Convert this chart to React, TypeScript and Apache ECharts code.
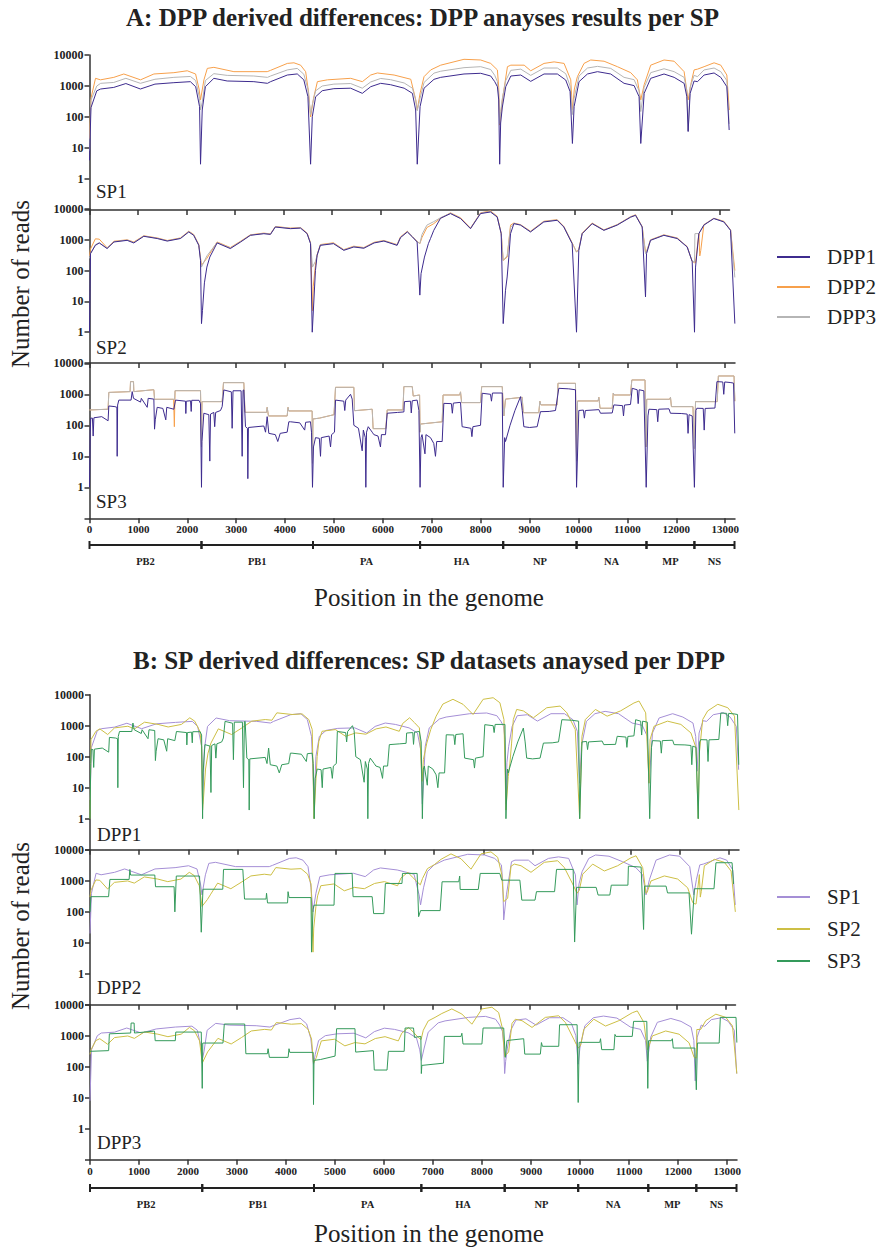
import React, { useEffect, useRef } from 'react';
import * as echarts from 'echarts';

type P = [number, number];

const xTicks = [0, 1000, 2000, 3000, 4000, 5000, 6000, 7000, 8000, 9000, 10000, 11000, 12000, 13000];
const geneNames = ['PB2', 'PB1', 'PA', 'HA', 'NP', 'NA', 'MP', 'NS'];
const geneBounds = [0, 2290, 4570, 6760, 8460, 9960, 11390, 12370, 13190];
const dppNames = ['DPP1', 'DPP2', 'DPP3'];
const spNames = ['SP1', 'SP2', 'SP3'];

// SP1
const sp1dpp1: P[] = [[0,4],[30,200],[150,700],[230,800],[500,900],[750,1200],[1050,800],[1350,1150],[1740,1280],[2080,1380],[2190,950],[2270,216],[2290,3],[2325,168],[2390,950],[2565,1770],[2840,1450],[3390,1380],[3670,1220],[3735,1380],[4080,2260],[4285,2450],[4420,1580],[4505,453],[4560,3],[4595,102],[4664,450],[4800,705],[5040,820],[5386,850],[5627,580],[5800,950],[6005,1220],[6210,1100],[6490,850],[6660,580],[6727,168],[6760,3],[6818,216],[6900,850],[7105,1640],[7243,1900],[7724,2440],[8068,2570],[8275,2100],[8358,1380],[8413,950],[8440,355],[8460,3],[8480,64],[8515,210],[8585,950],[8690,2100],[8895,2260],[9100,1410],[9375,2440],[9650,2440],[9822,1560],[9912,660],[9960,14],[9995,216],[10097,1380],[10270,2440],[10477,2900],[10750,2440],[11025,1220],[11232,1030],[11335,453],[11370,14],[11440,580],[11575,1770],[11850,2440],[12058,1900],[12264,1220],[12320,453],[12347,34],[12388,580],[12470,1450],[12540,1380],[12676,2260],[12882,2630],[13020,1900],[13145,950],[13193,38]];
const sp1dpp2: P[] = [[0,20],[30,400],[124,1770],[227,1580],[502,1900],[708,2440],[1052,1580],[1328,2440],[1740,2690],[2016,3100],[2188,2440],[2260,800],[2290,355],[2360,1580],[2430,3700],[2565,4000],[2978,2900],[3666,2900],[3735,3200],[4080,5350],[4217,5600],[4354,4700],[4458,2900],[4520,600],[4560,100],[4620,400],[4700,1380],[4906,1580],[5387,1770],[5628,1380],[5800,2260],[5938,2630],[6282,2260],[6626,1650],[6730,355],[6760,168],[6820,600],[6900,2000],[7037,3300],[7243,4700],[7724,7260],[8068,6900],[8275,5350],[8413,3300],[8440,900],[8460,55],[8515,355],[8620,4200],[8690,4700],[8965,4700],[9100,3100],[9375,5350],[9582,6000],[9788,5350],[9926,1580],[9960,168],[10000,800],[10063,2000],[10200,5350],[10338,6900],[10613,6300],[10888,4200],[11163,2690],[11300,1580],[11370,355],[11440,1100],[11575,4700],[11850,6900],[12058,6300],[12264,2900],[12347,355],[12400,1100],[12470,3300],[12540,3500],[12676,4200],[12882,5600],[13020,4700],[13145,2260],[13195,168]];
const sp1dpp3: P[] = [[0,8],[30,350],[150,1000],[230,1220],[500,1300],[750,1770],[1050,1220],[1350,1650],[1740,1900],[2080,2030],[2190,1500],[2270,400],[2290,168],[2325,300],[2390,1500],[2565,2500],[2840,2200],[3390,2100],[3670,1900],[3735,2100],[4080,3300],[4285,3700],[4420,2400],[4505,800],[4560,120],[4595,250],[4664,700],[4800,1000],[5040,1150],[5386,1200],[5627,850],[5800,1350],[6005,1750],[6210,1600],[6490,1250],[6660,850],[6727,350],[6760,160],[6818,400],[6900,1300],[7105,2600],[7243,3000],[7724,3900],[8068,4200],[8275,3400],[8358,2200],[8413,1400],[8440,500],[8460,60],[8480,150],[8515,400],[8585,1500],[8690,3200],[8895,3500],[9100,2200],[9375,3800],[9650,3800],[9822,2500],[9912,1000],[9960,120],[9995,400],[10097,2100],[10270,3800],[10477,4300],[10750,3700],[11025,1900],[11232,1600],[11335,700],[11370,150],[11440,900],[11575,2700],[11850,3600],[12058,2900],[12264,1900],[12320,700],[12347,35],[12388,900],[12470,2200],[12540,2000],[12676,3300],[12882,3800],[13020,2900],[13145,1500],[13193,60]];

// SP2
const sp2dpp1: P[] = [[0,1],[20,355],[120,660],[200,790],[360,520],[500,850],[770,960],[906,790],[1110,1300],[1385,1100],[1590,910],[1860,1100],[2030,1800],[2130,1400],[2235,660],[2270,215],[2290,1.9],[2310,5],[2350,40],[2400,130],[2460,275],[2610,790],[2880,520],[3090,850],[3290,1400],[3565,1580],[3700,1500],[3800,2600],[4110,2300],[4315,2400],[4450,1580],[4520,750],[4555,1],[4620,100],[4655,315],[4720,660],[4990,750],[5200,455],[5405,585],[5610,532],[5820,790],[6020,910],[6290,660],[6360,1180],[6500,1800],[6600,1250],[6700,850],[6755,16],[6780,80],[6850,275],[6930,750],[6973,1100],[7040,2030],[7178,5000],[7382,7100],[7587,4900],[7791,2300],[7996,7100],[8200,8000],[8337,5500],[8419,1580],[8460,1.9],[8507,23],[8541,62],[8575,275],[8610,1580],[8678,3350],[8814,3000],[9018,1800],[9290,3800],[9563,4300],[9700,2600],[9870,750],[9959,1],[10006,455],[10075,1580],[10279,3350],[10518,2030],[10790,3000],[11063,5400],[11166,6250],[11302,2600],[11370,14],[11391,355],[11472,960],[11745,1400],[12018,1100],[12222,585],[12325,195],[12372,1],[12393,130],[12461,1580],[12563,3000],[12768,4900],[12972,3800],[13109,2030],[13197,1.9]];
const sp2dpp2: P[] = [[0,300],[20,500],[120,1075],[200,1050],[360,550],[500,900],[770,1000],[906,850],[1110,1350],[1385,1150],[1590,950],[1860,1150],[2030,1900],[2130,1500],[2235,700],[2290,150],[2400,250],[2460,355],[2610,850],[2880,560],[3090,900],[3290,1450],[3565,1650],[3700,1550],[3800,2700],[4110,2400],[4315,2500],[4450,1650],[4520,800],[4560,5],[4575,30],[4620,150],[4655,330],[4720,700],[4990,800],[5200,480],[5405,620],[5610,560],[5820,830],[6020,950],[6290,700],[6360,1250],[6500,1900],[6600,1300],[6700,900],[6755,750],[6800,1200],[6900,2500],[7040,3350],[7178,5000],[7382,7500],[7587,5200],[7791,2400],[7996,7500],[8200,8700],[8337,5800],[8419,1650],[8460,215],[8541,275],[8610,3000],[8678,3500],[8814,3100],[9018,1900],[9290,4000],[9563,4500],[9700,2700],[9870,800],[9959,400],[10006,500],[10075,1650],[10279,3500],[10518,2100],[10790,3100],[11063,5600],[11166,6500],[11302,2700],[11370,400],[11391,420],[11472,1000],[11745,1450],[12018,1150],[12222,600],[12325,200],[12372,180],[12393,180],[12461,1600],[12480,300],[12500,450],[12563,3100],[12768,5000],[12972,4000],[13109,2100],[13197,100]];
const sp2dpp3: P[] = [[0,250],[20,350],[120,700],[200,800],[360,530],[500,870],[770,980],[906,820],[1110,1320],[1385,1120],[1590,930],[1860,1120],[2030,1850],[2130,1450],[2235,680],[2290,130],[2400,300],[2460,400],[2610,820],[2880,540],[3090,870],[3290,1420],[3565,1600],[3700,1520],[3800,2650],[4110,2350],[4315,2450],[4450,1600],[4520,780],[4560,130],[4620,200],[4655,320],[4720,680],[4990,770],[5200,470],[5405,600],[5610,545],[5820,810],[6020,930],[6290,680],[6360,1200],[6500,1850],[6600,1280],[6700,870],[6755,750],[6800,1500],[6900,3000],[7040,3900],[7178,5200],[7382,7300],[7587,5000],[7791,2350],[7996,7300],[8200,8300],[8337,5600],[8419,1600],[8460,215],[8541,300],[8610,2500],[8678,3400],[8814,3050],[9018,1850],[9290,3900],[9563,4400],[9700,2650],[9870,770],[9959,400],[10006,470],[10075,1600],[10279,3400],[10518,2050],[10790,3050],[11063,5500],[11166,6300],[11302,2650],[11370,355],[11391,400],[11472,980],[11745,1420],[12018,1120],[12222,590],[12325,200],[12372,190],[12380,1580],[12461,1600],[12563,3050],[12768,4950],[12972,3900],[13109,2050],[13197,60]];

// SP3
const sp3dpp1: P[] = [[0,1],[15,60],[25,170],[60,170],[75,45],[90,175],[250,190],[380,140],[395,420],[520,400],[560,380],[566,10],[575,450],[600,650],[850,650],[873,1220],[900,740],[1043,560],[1060,740],[1180,380],[1200,740],[1316,700],[1330,75],[1345,150],[1384,380],[1500,350],[1560,150],[1580,380],[1725,330],[1759,650],[1963,600],[1970,240],[1980,600],[2066,620],[2080,280],[2090,640],[2240,640],[2270,500],[2290,1],[2300,30],[2338,245],[2440,220],[2460,7],[2475,230],[2542,260],[2560,90],[2580,260],[2679,300],[2713,400],[2747,1380],[2900,1200],[2917,80],[2935,1300],[3100,1300],[3122,10],[3140,1350],[3156,1380],[3190,90],[3230,80],[3238,1.9],[3250,85],[3565,95],[3600,60],[3633,190],[3667,55],[3800,50],[3850,30],[3900,55],[4042,60],[4076,130],[4110,130],[4300,120],[4400,70],[4420,125],[4519,130],[4540,60],[4560,1],[4580,20],[4622,40],[4700,38],[4724,10],[4740,40],[4900,45],[4929,20],[4950,50],[5010,60],[5031,650],[5200,600],[5220,300],[5240,650],[5338,1000],[5372,700],[5406,100],[5500,80],[5576,15],[5600,70],[5640,40],[5651,1],[5665,60],[5700,90],[5781,60],[5815,50],[5900,45],[5950,20],[5970,50],[6053,50],[6088,245],[6300,260],[6429,270],[6440,580],[6565,600],[6580,250],[6600,620],[6700,650],[6736,300],[6760,1],[6780,40],[6800,50],[6860,12],[6880,50],[6973,40],[7040,26],[7075,10],[7100,30],[7212,30],[7246,510],[7400,500],[7420,245],[7440,520],[7587,550],[7620,90],[7800,80],[7820,43],[7840,90],[7996,100],[8030,1080],[8200,1000],[8220,600],[8240,1100],[8440,1100],[8460,1],[8490,40],[8507,30],[8600,100],[8700,300],[8814,840],[8850,300],[8882,90],[9000,85],[9154,90],[9222,275],[9400,280],[9529,300],[9597,1560],[9800,1500],[9938,1400],[9960,1],[10006,300],[10100,310],[10120,170],[10140,300],[10416,320],[10450,245],[10689,250],[10723,455],[10900,430],[10920,200],[10940,450],[11063,470],[11098,1560],[11200,1400],[11220,500],[11240,1400],[11336,1300],[11384,1],[11420,200],[11440,330],[11600,320],[11620,130],[11640,330],[11850,340],[11880,245],[12100,240],[12222,230],[12240,55],[12260,220],[12325,200],[12370,1],[12400,300],[12420,355],[12550,350],[12570,70],[12590,350],[12790,360],[12830,2560],[12950,2500],[12970,1000],[12990,2500],[13100,2400],[13170,2300],[13195,55]];
// SP3 / DPP2 as seen in panel A (mostly under DPP3)
const sp3dpp2A: P[] = [[0,313],[380,330],[395,1150],[830,1220],[839,2560],[900,2560],[907,1220],[1300,1400],[1316,1400],[1330,690],[1720,690],[1735,90],[1750,1310],[2270,1310],[2290,20],[2300,580],[2713,580],[2740,2380],[3156,2380],[3180,262],[3620,262],[3633,380],[3660,200],[4042,200],[4060,380],[4076,290],[4553,290],[4560,6],[4570,160],[4700,170],[5000,220],[5031,1680],[5406,1680],[5420,296],[5781,330],[5800,78],[6060,78],[6088,313],[6410,313],[6429,1770],[6600,1770],[6620,880],[6750,950],[6760,60],[6770,110],[7212,130],[7230,950],[7570,950],[7587,1200],[7610,540],[7996,540],[8020,1770],[8440,1770],[8473,200],[8507,700],[8848,800],[8870,255],[9188,255],[9210,600],[9230,455],[9563,455],[9580,2260],[9938,2260],[9960,7],[9980,610],[10400,610],[10416,800],[10440,355],[10689,355],[10710,1100],[10730,950],[11063,950],[11090,2900],[11360,2900],[11380,20],[11395,690],[11860,690],[11881,800],[11900,400],[12340,400],[12370,18],[12393,580],[12836,580],[12860,3900],[13180,3900],[13197,600]];
// SP3 / DPP2 as seen in panel B
const sp3dpp2: P[] = [[0,100],[20,310],[380,310],[407,1120],[800,1120],[815,2350],[830,1550],[1325,1550],[1340,650],[1720,650],[1735,100],[1765,1440],[2240,1440],[2275,22],[2310,540],[2715,540],[2730,2360],[3125,2360],[3160,260],[3600,260],[3610,400],[3630,195],[4040,195],[4050,450],[4070,290],[4520,290],[4530,5],[4560,120],[4580,165],[4990,165],[5010,1750],[5360,1750],[5380,310],[5770,310],[5800,88],[6010,88],[6040,830],[6380,830],[6390,1750],[6690,1750],[6720,70],[6760,110],[7160,110],[7200,940],[7540,940],[7560,1440],[7570,530],[7940,530],[7980,1750],[8380,1750],[8420,1060],[8790,1060],[8830,240],[9100,240],[9130,450],[9500,450],[9540,2360],[9880,2360],[9910,10.6],[9950,620],[10350,620],[10390,350],[10630,350],[10660,730],[11000,730],[11010,3000],[11270,2800],[11320,27],[11340,680],[11780,680],[11810,410],[12250,410],[12300,19],[12360,560],[12760,560],[12800,3880],[13130,3880],[13160,800]];
const sp3dpp3: P[] = [[0,313],[380,330],[395,1150],[830,1220],[839,2560],[900,2560],[907,1220],[1300,1400],[1316,1400],[1330,690],[1740,690],[1750,1310],[2270,1310],[2290,20],[2300,580],[2713,580],[2740,2380],[3156,2380],[3180,262],[3620,262],[3633,380],[3660,200],[4042,200],[4060,380],[4076,290],[4553,290],[4560,6],[4570,160],[4700,170],[5000,220],[5031,1680],[5406,1680],[5420,296],[5781,330],[5800,78],[6060,78],[6088,313],[6410,313],[6429,1770],[6600,1770],[6620,880],[6750,950],[6760,60],[6770,110],[7212,130],[7230,950],[7570,950],[7587,1200],[7610,540],[7996,540],[8020,1770],[8440,1770],[8473,200],[8507,700],[8848,800],[8870,255],[9188,255],[9210,600],[9230,455],[9563,455],[9580,2260],[9938,2260],[9960,7],[9980,610],[10400,610],[10416,800],[10440,355],[10689,355],[10710,1100],[10730,950],[11063,950],[11090,2900],[11360,2900],[11380,20],[11395,690],[11860,690],[11881,800],[11900,400],[12340,400],[12370,18],[12393,580],[12836,580],[12860,3900],[13180,3900],[13197,600]];

const dppColors = ['#3d2b8e', '#f7a04b', '#b5b5b5'];
const spColors = ['#a58fd6', '#cdbf45', '#349a5b'];

const FONT = 'Liberation Serif, Times New Roman, serif';
const AX = '#333';

const App: React.FC = () => {
  const ref = useRef<HTMLDivElement>(null);
  useEffect(() => {
    document.body.style.margin = '0';
    if (!ref.current) return;
    const chart = echarts.init(ref.current, undefined, { renderer: 'svg' });

    const dataA = [
      [sp1dpp1, sp1dpp2, sp1dpp3],
      [sp2dpp1, sp2dpp2, sp2dpp3],
      [sp3dpp1, sp3dpp2A, sp3dpp3],
    ];
    const dataB = [
      [sp1dpp1, sp1dpp2, sp1dpp3],
      [sp2dpp1, sp2dpp2, sp2dpp3],
      [sp3dpp1, sp3dpp2, sp3dpp3],
    ];

    const plotGrids = [
      { left: 89.5, top: 55, width: 640, height: 155 },
      { left: 89.5, top: 209, width: 645.5, height: 154 },
      { left: 89.5, top: 363.3, width: 645.5, height: 155 },
      { left: 90, top: 694.7, width: 649, height: 155 },
      { left: 90, top: 850, width: 645.5, height: 154.7 },
      { left: 90, top: 1004.7, width: 647, height: 155 },
    ];
    const geneGrids = [
      { left: 89.5, top: 537, width: 645.5, height: 16 },
      { left: 90, top: 1180, width: 647, height: 16 },
    ];
    const grids = [...plotGrids, ...geneGrids].map((g) => ({ ...g, containLabel: false, outerBoundsMode: 'none' }));

    const xAxis: any[] = [];
    const yAxis: any[] = [];
    plotGrids.forEach((_, i) => {
      const bottom = i === 2 || i === 5;
      xAxis.push({
        type: 'value', gridIndex: i, min: 0, max: 13200,
        axisLine: { show: true, onZero: false, lineStyle: { color: AX, width: 1.5 } },
        axisTick: { show: true, length: 5, customValues: xTicks, lineStyle: { color: AX, width: 1.5 } },
        axisLabel: {
          show: bottom, customValues: xTicks, margin: i === 5 ? 6 : 5,
          fontFamily: FONT, fontWeight: 'bold', fontSize: 11, color: '#222',
          formatter: (v: number) => String(Math.round(v)),
        },
        splitLine: { show: false },
      });
      yAxis.push({
        type: 'log', logBase: 10, gridIndex: i, min: 0.1, max: 10000,
        axisLine: { show: true, lineStyle: { color: AX, width: 1.5 } },
        axisTick: { show: true, length: 5, lineStyle: { color: AX, width: 1.5 } },
        axisLabel: {
          margin: 6, fontFamily: FONT, fontWeight: 'bold', fontSize: 12, color: '#222',
          formatter: (v: number) => (v >= 1 ? String(Math.round(v)) : ''),
        },
        splitLine: { show: false },
        minorTick: { show: false },
      });
    });
    geneGrids.forEach((_, j) => {
      xAxis.push({ type: 'value', gridIndex: 6 + j, min: 0, max: 13200, show: false });
      yAxis.push({ type: 'value', gridIndex: 6 + j, min: 0, max: 1, show: false });
    });

    const series: any[] = [];
    // Panel A: per SP, DPP lines (draw order DPP2, DPP3, DPP1)
    [0, 1, 2].forEach((sp) => {
      [1, 2, 0].forEach((d) => {
        series.push({
          type: 'line', name: dppNames[d], xAxisIndex: sp, yAxisIndex: sp,
          data: dataA[sp][d], showSymbol: false, symbol: 'none', color: dppColors[d],
          lineStyle: { width: 1, color: dppColors[d] }, silent: true,
        });
      });
    });
    // Panel B: per DPP, SP lines
    [0, 1, 2].forEach((d) => {
      [0, 1, 2].forEach((sp) => {
        series.push({
          type: 'line', name: spNames[sp], xAxisIndex: 3 + d, yAxisIndex: 3 + d,
          data: dataB[sp][d], showSymbol: false, symbol: 'none', color: spColors[sp],
          lineStyle: { width: 1, color: spColors[sp] }, silent: true,
        });
      });
    });
    const geneData = geneNames.map((n, i) => [geneBounds[i], geneBounds[i + 1]]);
    [0, 1].forEach((j) => {
      series.push({
        type: 'custom', xAxisIndex: 6 + j, yAxisIndex: 6 + j, clip: false, silent: true,
        data: geneData,
        renderItem: (params: any, api: any) => {
          const s = api.coord([api.value(0), 0.5]);
          const e = api.coord([api.value(1), 0.5]);
          const st = { stroke: '#222', lineWidth: 2 };
          return {
            type: 'group',
            children: [
              { type: 'line', shape: { x1: s[0], y1: s[1], x2: e[0], y2: e[1] }, style: st },
              { type: 'line', shape: { x1: s[0], y1: s[1] - 4, x2: s[0], y2: s[1] + 4 }, style: st },
              { type: 'line', shape: { x1: e[0], y1: e[1] - 4, x2: e[0], y2: e[1] + 4 }, style: st },
              {
                type: 'text', x: (s[0] + e[0]) / 2, y: s[1] + 16,
                style: { text: geneNames[params.dataIndex], textAlign: 'center', textVerticalAlign: 'middle', fontFamily: FONT, fontWeight: 'bold', fontSize: 10.5, fill: '#222' },
              },
            ],
          };
        },
      });
    });

    const txt = (text: string, x: number, y: number, size: number, opts: any = {}) => ({
      type: 'text', x, y, rotation: opts.rotation || 0, silent: true,
      style: {
        text, fontFamily: FONT, fontSize: size, fontWeight: opts.bold ? 'bold' : 'normal',
        fill: '#222', textAlign: opts.align || 'left', textVerticalAlign: 'middle',
      },
    });

    const graphic = [
      txt('A: DPP derived differences: DPP anayses results per SP', 422.5, 17, 25, { bold: true, align: 'center' }),
      txt('B: SP derived differences: SP datasets anaysed per DPP', 429, 660, 25, { bold: true, align: 'center' }),
      txt('Number of reads', 20, 284, 25, { rotation: Math.PI / 2, align: 'center' }),
      txt('Number of reads', 20, 926, 25, { rotation: Math.PI / 2, align: 'center' }),
      txt('Position in the genome', 429, 597, 25, { align: 'center' }),
      txt('Position in the genome', 429, 1233, 25, { align: 'center' }),
      txt('SP1', 96, 191, 19),
      txt('SP2', 96, 347, 19),
      txt('SP3', 96, 501, 19),
      txt('DPP1', 97, 834, 19),
      txt('DPP2', 97, 987, 19),
      txt('DPP3', 97, 1142, 19),
    ];

    const legendBase = {
      orient: 'vertical', itemWidth: 33, itemHeight: 2, itemGap: 0, icon: 'rect', selectedMode: false, padding: 0,
    };
    const legend = [
      { ...legendBase, data: dppNames, left: 777, top: 242, textStyle: { fontFamily: FONT, fontSize: 21, color: '#222', lineHeight: 30, padding: [0, 0, 0, 12] } },
      { ...legendBase, data: spNames, left: 777, top: 881, textStyle: { fontFamily: FONT, fontSize: 21, color: '#222', lineHeight: 32, padding: [0, 0, 0, 12] } },
    ];

    chart.setOption({
      animation: false,
      backgroundColor: '#fff',
      grid: grids,
      xAxis,
      yAxis,
      series,
      legend,
      graphic,
    });
    return () => chart.dispose();
  }, []);
  return <div ref={ref} style={{ width: 879, height: 1250 }} />;
};

export default App;
